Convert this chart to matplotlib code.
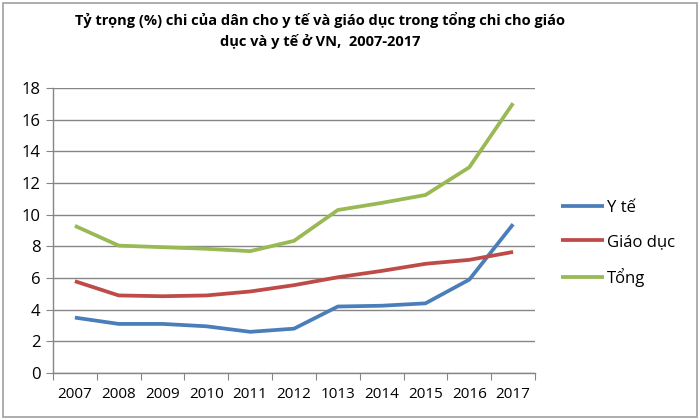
import matplotlib
matplotlib.use("agg")
import matplotlib.pyplot as plt
from matplotlib.patches import Rectangle
from matplotlib.ticker import FixedLocator, NullFormatter

plt.rcParams['font.family'] = ['Open Sans', 'DejaVu Sans']

years = ['2007', '2008', '2009', '2010', '2011', '2012', '1013', '2014', '2015', '2016', '2017']
y_te = [3.5, 3.1, 3.1, 2.95, 2.6, 2.8, 4.2, 4.25, 4.4, 5.9, 9.4]
giao_duc = [5.8, 4.9, 4.85, 4.9, 5.15, 5.55, 6.05, 6.45, 6.9, 7.15, 7.65]
tong = [9.3, 8.05, 7.95, 7.85, 7.7, 8.35, 10.3, 10.75, 11.25, 13.0, 17.05]

series_names = ['Y tế', 'Giáo dục', 'Tổng']
colors = ['#4a7ebb', '#be4b48', '#98b954']

fig = plt.figure(figsize=(7, 4.2), dpi=100)
ax = fig.add_axes([0.0757, 0.112, 0.6886, 0.678])

x = list(range(len(years)))
for vals, name, col in zip([y_te, giao_duc, tong], series_names, colors):
    ax.plot(x, vals, color=col, lw=2.7, label=name, solid_capstyle='butt')

ax.set_xlim(-0.5, len(years) - 0.5)
ax.set_ylim(0, 18)
ax.set_yticks(range(0, 19, 2))
ax.yaxis.grid(True, color='#868686', lw=1.0)
ax.set_axisbelow(True)

# ticks at category boundaries, labels centred
ax.xaxis.set_major_locator(FixedLocator([i - 0.5 for i in range(len(years) + 1)]))
ax.xaxis.set_major_formatter(NullFormatter())
ax.xaxis.set_minor_locator(FixedLocator(x))
ax.set_xticklabels(years, minor=True)
ax.tick_params(axis='x', which='major', length=5, color='#868686', direction='out')
ax.tick_params(axis='x', which='minor', length=0, pad=10, labelsize=11)
ax.tick_params(axis='y', length=5, color='#868686', labelsize=12, pad=4)

for s in ['top', 'right']:
    ax.spines[s].set_visible(False)
for s in ['left', 'bottom']:
    ax.spines[s].set_color('#868686')
    ax.spines[s].set_linewidth(1.0)

fig.text(0.457, 0.927, 'Tỷ trọng (%) chi của dân cho y tế và giáo dục trong tổng chi cho giáo\n'
         'dục và y tế ở VN,  2007-2017', ha='center', va='center',
         fontsize=10.5, fontweight='bold', linespacing=1.5)

ax.legend(loc='center left', bbox_to_anchor=(1.04, 0.455), frameon=False,
          fontsize=12, handlelength=2.6, handletextpad=0.15, labelspacing=1.1,
          borderaxespad=0)

fig.patches.append(Rectangle((0.004, 0.006), 0.992, 0.988, transform=fig.transFigure,
                             fill=False, edgecolor='#a0a0a0', lw=1.2))

fig.savefig('out.png', dpi=100)
